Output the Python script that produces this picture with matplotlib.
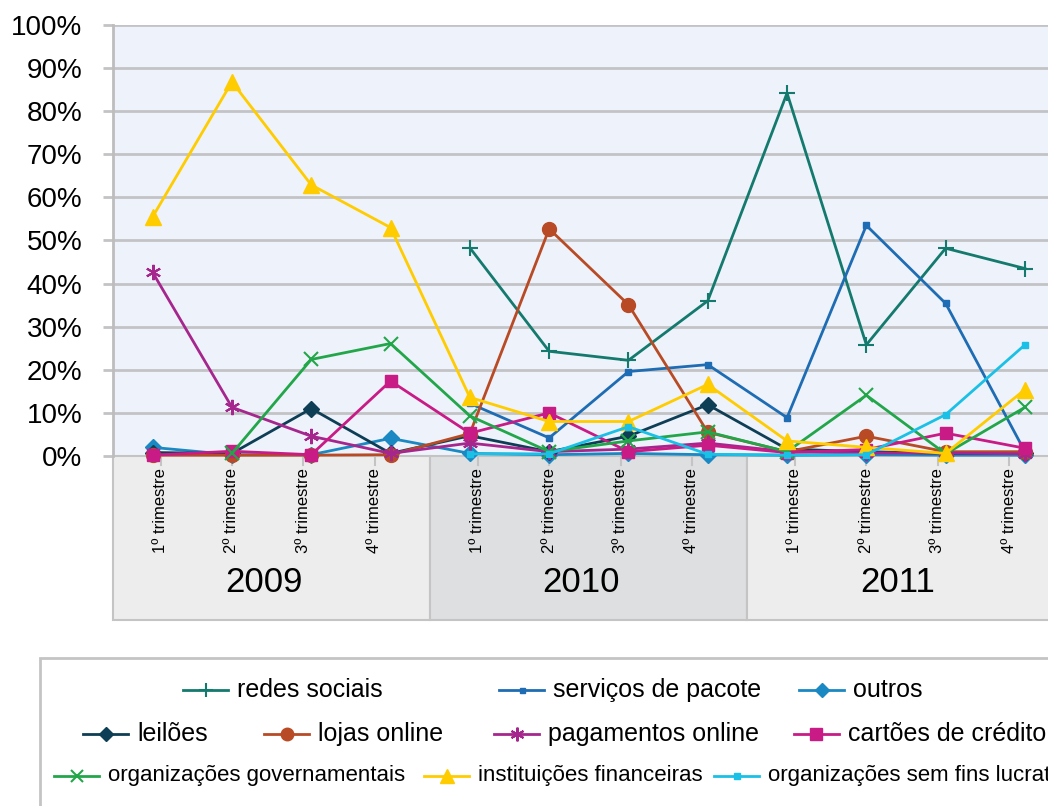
import matplotlib
matplotlib.use("Agg")
import matplotlib.pyplot as plt
import numpy as np
from matplotlib.patches import Rectangle
from matplotlib.lines import Line2D
import matplotlib.transforms as mtransforms

plt.rcParams['font.family'] = ['Liberation Sans', 'DejaVu Sans']

nan = np.nan
trimestres = ["1º trimestre", "2º trimestre", "3º trimestre", "4º trimestre"] * 3
anos = ["2009", "2010", "2011"]

redes_sociais = [nan, nan, nan, nan, 48.3, 24.3, 22.2, 36.0, 84.2, 25.8, 48.2, 43.5]
servicos_pacote = [nan, nan, nan, nan, 12.2, 4.2, 19.6, 21.2, 8.9, 53.5, 35.4, 1.0]
outros = [2.0, 0.3, 0.3, 4.1, 0.6, 0.3, 0.6, 0.3, 0.2, 0.3, 0.2, 0.2]
leiloes = [0.8, 0.6, 11.0, 0.6, 4.7, 1.0, 4.6, 11.9, 1.6, 1.0, 0.6, 0.6]
lojas_online = [0.2, 0.2, 0.2, 0.3, 5.2, 52.7, 35.1, 5.5, 1.0, 4.6, 1.0, 1.0]
pagamentos_online = [42.6, 11.3, 4.6, 0.6, 3.0, 1.0, 1.6, 3.0, 1.0, 0.7, 0.7, 0.5]
cartoes_credito = [0.2, 1.1, 0.3, 17.4, 5.3, 10.0, 1.0, 2.5, 0.8, 1.5, 5.3, 1.8]
org_governamentais = [nan, 0.6, 22.4, 26.1, 9.3, 1.0, 3.5, 5.6, 1.0, 14.1, 0.5, 11.3]
inst_financeiras = [55.5, 86.8, 62.9, 53.0, 13.6, 8.0, 8.0, 16.6, 3.5, 2.0, 0.6, 15.4]
org_sem_fins = [nan, nan, nan, nan, 0.5, 0.5, 6.8, 0.4, 0.2, 0.3, 9.6, 25.8]

series = [
    ("redes sociais", redes_sociais, "#137a6d", "+", 11, 1.5),
    ("serviços de pacote", servicos_pacote, "#1e6cb3", "s", 4, 1),
    ("outros", outros, "#1a88c2", "D", 8, 1),
    ("leilões", leiloes, "#0e3e55", "D", 8, 1),
    ("lojas online", lojas_online, "#b84b25", "o", 10, 1),
    ("pagamentos online", pagamentos_online, "#a5278e", (6, 2, 0), 11, 1.5),
    ("cartões de crédito", cartoes_credito, "#c81b86", "s", 9, 1),
    ("organizações governamentais", org_governamentais, "#22a64a", "x", 10, 1.5),
    ("instituições financeiras", inst_financeiras, "#ffcc00", "^", 11, 1),
    ("organizações sem fins lucrativos", org_sem_fins, "#1ac0e6", "s", 5, 1),
]

W, H = 1048, 806
fig = plt.figure(figsize=(W / 100, H / 100), dpi=100)
fig.patch.set_facecolor("white")

step = 79.3
left, top, bottom = 113, 25, 456
ax = fig.add_axes([left / W, 1 - bottom / H, 12 * step / W, (bottom - top) / H])
ax.set_facecolor("#eef2fa")
x = np.arange(12)

for nome, vals, cor, mk, ms, mew in series:
    ax.plot(x, vals, color=cor, lw=2, marker=mk, ms=ms, mew=mew,
            mec=cor, mfc=cor, label=nome, clip_on=False, zorder=3)

ax.set_xlim(-0.5, 11.5)
ax.set_ylim(0, 100)
ax.set_yticks(np.arange(0, 101, 10))
ax.set_yticklabels([f"{v}%" for v in range(0, 101, 10)], fontsize=20)
ax.yaxis.grid(True, color="#c3c3c6", lw=2)
ax.set_axisbelow(True)
ax.tick_params(axis="y", length=7, color="#c3c3c6", width=2, pad=15)
ax.set_xticks([])
for s in ["top", "right", "bottom"]:
    ax.spines[s].set_visible(False)
ax.spines["left"].set_color("#bdbdbd")
ax.spines["left"].set_linewidth(2)

# caixas dos anos por baixo do eixo
trans = mtransforms.blended_transform_factory(ax.transData, fig.transFigure)
box_top = 1 - bottom / H
box_bot = 1 - 620 / H
cores_ano = ["#ededed", "#dedfe1", "#ededed"]
for i, ano in enumerate(anos):
    x0 = -0.5 + 4 * i
    ax.add_patch(Rectangle((x0, box_bot), 4, box_top - box_bot, transform=trans,
                           facecolor=cores_ano[i], edgecolor="#c4c4c4", lw=1.5,
                           clip_on=False, zorder=0))
    ax.text(x0 + 1.9, 1 - 582 / H, ano, transform=trans, ha="center", va="center",
            fontsize=25, clip_on=False)

# rótulos dos trimestres, ligeiramente deslocados dentro de cada ano
for i, lab in enumerate(trimestres):
    xl = i + 0.1 - 0.1 * (i % 4)
    ax.add_artist(Line2D([xl, xl], [box_top, box_top - 9 / H], transform=trans,
                         color="#c4c4c4", lw=1.5, clip_on=False))
    ax.text(xl, 1 - 468 / H, lab, transform=trans, rotation=90, ha="center", va="top",
            fontsize=12, clip_on=False)

# legenda em três linhas
fig.patches.append(Rectangle((40 / W, -0.1), 1.1, 1 - 658 / H + 0.1, transform=fig.transFigure,
                             facecolor="white", edgecolor="#c4c4c4", lw=2))
linhas = [([0, 1, 2], [237, 553, 853], 690, 18),
          ([3, 4, 5, 6], [137, 318, 548, 848], 734, 18),
          ([7, 8, 9], [108, 478, 768], 776, 16)]
for idx, xs, yp, fs in linhas:
    yf = 1 - yp / H
    for k, xt in zip(idx, xs):
        nome, vals, cor, mk, ms, mew = series[k]
        x1 = (xt - 9) / W
        x0 = (xt - 54) / W
        fig.add_artist(Line2D([x0, x1], [yf, yf], transform=fig.transFigure, color=cor, lw=2))
        fig.add_artist(Line2D([(x0 + x1) / 2], [yf], transform=fig.transFigure, color=cor,
                              marker=mk, ms=ms * 0.9, mew=mew, mec=cor, mfc=cor))
        fig.text(xt / W, yf, nome, fontsize=fs, ha="left", va="center")

fig.savefig("out.png", dpi=100)
